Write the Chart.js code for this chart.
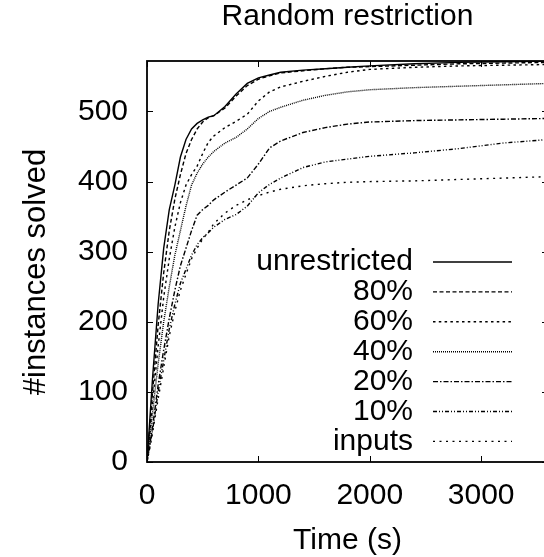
<!DOCTYPE html>
<html>
<head>
<meta charset="utf-8">
<script src="https://cdn.jsdelivr.net/npm/chart.js@4/dist/chart.umd.min.js"></script>
<style>
  html, body { margin: 0; padding: 0; background: #fff; overflow: hidden; }
</style>
</head>
<body>
<canvas id="chart" width="560" height="557"></canvas>
<script>
const FONT = "'Liberation Sans', Arial, sans-serif";

const titleText = "Random restriction";
const xTitle = "Time (s)";
const yTitle = "#instances solved";
const xTicks = [0, 1000, 2000, 3000];
const yTicks = [0, 100, 200, 300, 400, 500];

const times = [0, 25, 50, 100, 150, 200, 250, 300, 350, 400, 450, 500, 550, 600, 700, 800, 900, 1000, 1100, 1200, 1400, 1600, 1800, 2000, 2400, 2800, 3200, 3600];

const unrestricted = [0, 60, 120, 225, 305, 360, 395, 435, 460, 475, 483, 488, 492, 494, 507, 525, 540, 548, 552, 556, 559, 561, 563, 565, 568, 570, 571, 572];
const pct80 = [0, 50, 100, 195, 270, 330, 375, 410, 440, 460, 475, 485, 491, 494, 505, 522, 537, 546, 551, 555, 558, 561, 563, 564, 566, 568, 569, 570];
const pct60 = [0, 40, 85, 165, 235, 290, 335, 370, 395, 410, 422, 440, 456, 465, 477, 486, 496, 515, 528, 535, 543, 550, 556, 560, 563, 565, 566, 567];
const pct40 = [0, 35, 70, 140, 200, 250, 295, 330, 365, 395, 412, 425, 435, 443, 455, 463, 475, 490, 500, 506, 516, 523, 528, 531, 534, 536, 538, 540];
const pct20 = [0, 25, 50, 110, 160, 205, 245, 280, 305, 330, 352, 360, 366, 374, 385, 395, 405, 425, 448, 458, 470, 477, 482, 485, 487, 488, 489, 490];
const pct10 = [0, 22, 45, 100, 145, 190, 225, 255, 275, 295, 310, 320, 327, 335, 346, 353, 365, 384, 396, 405, 420, 428, 432, 436, 441, 447, 455, 460];
const inputs = [0, 20, 42, 90, 135, 180, 215, 245, 268, 290, 305, 318, 328, 340, 355, 366, 374, 380, 385, 389, 394, 397, 399, 400, 401, 403, 405, 407];

const seriesLabels = ["unrestricted", "80%", "60%", "40%", "20%", "10%", "inputs"];
const seriesValues = [unrestricted, pct80, pct60, pct40, pct20, pct10, inputs];
const seriesDash = [[], [4, 2.5], [2.5, 3.3], [1, 1], [5, 2, 1.5, 2], [4, 2, 1, 2, 1, 2], [2, 4.5]];

const datasets = seriesLabels.map((label, i) => ({
  label: label,
  data: times.map((t, j) => ({ x: t, y: seriesValues[i][j] })),
  borderColor: "#000",
  borderWidth: 1.4,
  borderDash: seriesDash[i],
  pointRadius: 0,
  tension: 0,
  fill: false,
}));

// frame, inward ticks, titles and the gnuplot-like legend
const decorations = {
  id: "decorations",
  afterDatasetsDraw(chart) {
    const { ctx, chartArea: a, scales } = chart;
    const x = scales.x;
    const y = scales.y;
    ctx.save();
    ctx.strokeStyle = "#000";
    ctx.setLineDash([]);

    ctx.lineWidth = 1;
    ctx.beginPath();
    yTicks.forEach((v) => {
      const py = Math.round(y.getPixelForValue(v)) + 0.5;
      ctx.moveTo(a.left, py);
      ctx.lineTo(a.left + 6, py);
      ctx.moveTo(a.right - 6, py);
      ctx.lineTo(a.right, py);
    });
    xTicks.forEach((v) => {
      const px = Math.round(x.getPixelForValue(v)) + 0.5;
      ctx.moveTo(px, a.bottom);
      ctx.lineTo(px, a.bottom - 6);
      ctx.moveTo(px, a.top);
      ctx.lineTo(px, a.top + 6);
    });
    ctx.stroke();

    ctx.lineWidth = 1.8;
    ctx.strokeRect(a.left, a.top, a.right - a.left, a.bottom - a.top);

    ctx.fillStyle = "#000";
    ctx.font = "30px " + FONT;
    ctx.textAlign = "center";
    ctx.textBaseline = "middle";
    ctx.fillText(titleText, (a.left + a.right) / 2, 17);

    ctx.save();
    ctx.translate(36, 272);
    ctx.rotate(-Math.PI / 2);
    ctx.font = "31px " + FONT;
    ctx.fillText(yTitle, 0, 0);
    ctx.restore();

    ctx.textAlign = "right";
    chart.data.datasets.forEach((ds, i) => {
      const ly = 262 + i * 29.9;
      ctx.fillText(ds.label, 413, ly);
      ctx.lineWidth = ds.borderWidth;
      ctx.setLineDash(ds.borderDash);
      ctx.beginPath();
      ctx.moveTo(433, ly);
      ctx.lineTo(512, ly);
      ctx.stroke();
    });
    ctx.restore();
  },
};

new Chart(document.getElementById("chart"), {
  type: "line",
  data: { datasets: datasets },
  options: {
    responsive: false,
    animation: false,
    devicePixelRatio: 1,
    layout: { padding: { top: 61, right: 12, left: 0, bottom: 0 } },
    plugins: {
      legend: { display: false },
      title: { display: false },
      tooltip: { enabled: false },
    },
    scales: {
      x: {
        type: "linear",
        min: 0,
        max: 3600,
        afterBuildTicks: (scale) => {
          scale.ticks = xTicks.map((v) => ({ value: v }));
        },
        afterFit: (scale) => {
          scale.height = 95;
        },
        grid: { display: false, drawTicks: false },
        border: { display: false },
        ticks: {
          color: "#000",
          padding: 16,
          maxRotation: 0,
          callback: (v) => String(v),
          font: { family: FONT, size: 30 },
        },
        title: {
          display: true,
          text: xTitle,
          color: "#000",
          padding: { top: 0, bottom: -2 },
          font: { family: FONT, size: 30 },
        },
      },
      y: {
        type: "linear",
        min: 0,
        max: 572,
        afterBuildTicks: (scale) => {
          scale.ticks = yTicks.map((v) => ({ value: v }));
        },
        afterFit: (scale) => {
          scale.width = 147;
        },
        grid: { display: false, drawTicks: false },
        border: { display: false },
        ticks: {
          color: "#000",
          padding: 19,
          callback: (v) => String(v),
          font: { family: FONT, size: 30 },
        },
        title: { display: false },
      },
    },
  },
  plugins: [decorations],
});
</script>
</body>
</html>
